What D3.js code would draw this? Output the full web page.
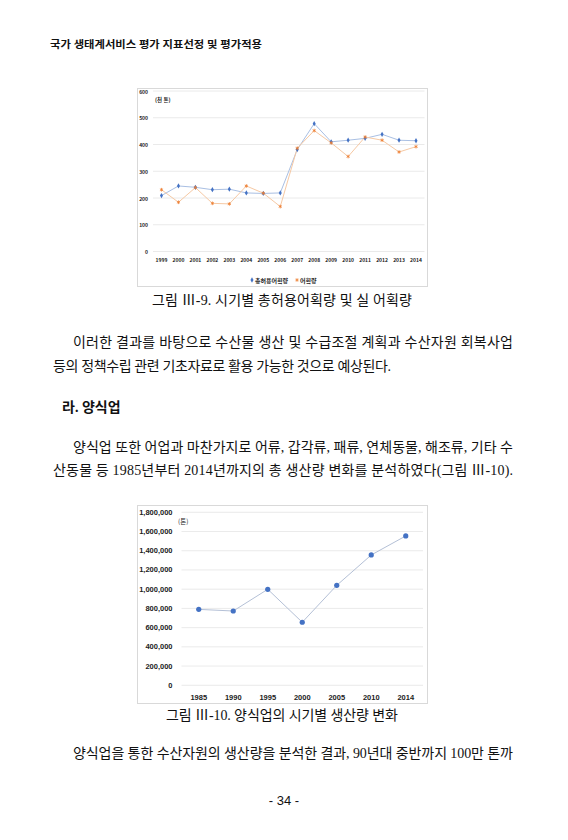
<!DOCTYPE html>
<html>
<head>
<meta charset="utf-8">
<script src="https://cdn.jsdelivr.net/npm/d3@7"></script>
<style>
  html, body { margin: 0; padding: 0; background: #fff; }
  svg { display: block; }
  .body-text { font-family: "Liberation Serif", "Noto Sans CJK KR", serif; font-size: 14px; fill: #111; }
  .chart-text { font-family: "Noto Sans CJK KR", "Liberation Sans", sans-serif; font-weight: 700; fill: #222; }
</style>
</head>
<body>
<div id="page"></div>
<script>
// Chart 1: 총허용어획량 vs 어획량 (천 톤)
const tacYears = ['1999', '2000', '2001', '2002', '2003', '2004', '2005', '2006',
                  '2007', '2008', '2009', '2010', '2011', '2012', '2013', '2014'];
const tacValues = [209, 245, 240, 231, 233, 219, 217, 219, 381, 478, 410, 416, 423, 438, 416, 414];
const catchValues = [231, 184, 239, 180, 178, 245, 218, 168, 386, 452, 406, 355, 428, 416, 372, 392];
const tacTicks = [0, 100, 200, 300, 400, 500, 600];
const tacLegend = ['총허용어획량', '어획량'];

// Chart 2: 양식업 생산량 (톤)
const aquaYears = ['1985', '1990', '1995', '2000', '2005', '2010', '2014'];
const aquaValues = [790000, 773000, 999000, 656000, 1040000, 1356000, 1554000];
const aquaTicks = [0, 200000, 400000, 600000, 800000, 1000000, 1200000, 1400000, 1600000, 1800000];

// Page text
const headerText = '국가 생태계서비스 평가 지표선정 및 평가적용';
const caption1 = '그림 Ⅲ-9. 시기별 총허용어획량 및 실 어획량';
const para1 = ['이러한 결과를 바탕으로 수산물 생산 및 수급조절 계획과 수산자원 회복사업',
               '등의 정책수립 관련 기초자료로 활용 가능한 것으로 예상된다.'];
const sectionTitle = '라. 양식업';
const para2 = ['양식업 또한 어업과 마찬가지로 어류, 갑각류, 패류, 연체동물, 해조류, 기타 수',
               '산동물 등 1985년부터 2014년까지의 총 생산량 변화를 분석하였다(그림 Ⅲ-10).'];
const caption2 = '그림 Ⅲ-10. 양식업의 시기별 생산량 변화';
const para3 = ['양식업을 통한 수산자원의 생산량을 분석한 결과, 90년대 중반까지 100만 톤까'];
const pageNum = '- 34 -';

const W = 568, H = 840;
const svg = d3.select('#page').append('svg').attr('width', W).attr('height', H);

// ---------- page text ----------
function bodyLine(txt, x, y, len) {
    const t = svg.append('text').attr('class', 'body-text')
        .attr('x', x).attr('y', y).attr('dominant-baseline', 'central').text(txt);
    if (len) t.attr('textLength', len).attr('lengthAdjust', 'spacing');
    return t;
}

svg.append('text').attr('class', 'body-text')
    .attr('x', 50).attr('y', 44).attr('dominant-baseline', 'central')
    .style('font-size', '10px').style('font-weight', 700)
    .attr('textLength', 212).attr('lengthAdjust', 'spacingAndGlyphs')
    .text(headerText);

bodyLine(caption1, 282, 300, 260).attr('text-anchor', 'middle');
bodyLine(para1[0], 73, 342, 440);
bodyLine(para1[1], 53, 366, 338);
bodyLine(sectionTitle, 62, 407).style('font-weight', 700).style('font-size', '14px');
bodyLine(para2[0], 73, 447, 440);
bodyLine(para2[1], 53, 470, 460);
bodyLine(caption2, 282, 715, 232).attr('text-anchor', 'middle');
bodyLine(para3[0], 73, 753, 440);
bodyLine(pageNum, 284, 800).attr('text-anchor', 'middle')
    .style('font-family', '"Liberation Sans", sans-serif').style('font-size', '13px');

// ---------- chart 1 ----------
const c1 = svg.append('g');
c1.append('rect').attr('x', 137.5).attr('y', 88.5).attr('width', 290).attr('height', 198)
    .attr('fill', '#fff').attr('stroke', '#d9d9d9').attr('stroke-width', 1);

const x1 = d3.scaleBand().domain(tacYears).range([153, 424.5]);
const y1 = d3.scaleLinear().domain([0, 600]).range([251.5, 91]);

c1.selectAll('.grid1').data(tacTicks).enter().append('line')
    .attr('x1', 153).attr('x2', 424.5)
    .attr('y1', d => y1(d)).attr('y2', d => y1(d))
    .attr('stroke', '#e4e4e4').attr('stroke-width', 0.8);

c1.selectAll('.ytick1').data(tacTicks).enter().append('text')
    .attr('class', 'chart-text')
    .attr('x', 148).attr('y', d => y1(d)).attr('text-anchor', 'end')
    .attr('dominant-baseline', 'central').style('font-size', '5px')
    .text(d => d);

c1.selectAll('.xtick1').data(tacYears).enter().append('text')
    .attr('class', 'chart-text')
    .attr('x', d => x1(d) + x1.bandwidth() / 2).attr('y', 259)
    .attr('text-anchor', 'middle').attr('dominant-baseline', 'central')
    .style('font-size', '5px').text(d => d);

c1.append('text').attr('class', 'chart-text')
    .attr('x', 155).attr('y', 100).attr('dominant-baseline', 'central')
    .style('font-size', '5.5px').text('(천 톤)');

const cx1 = (d, i) => x1(tacYears[i]) + x1.bandwidth() / 2;
const line1 = d3.line().x(cx1).y(d => y1(d));

c1.append('path').datum(tacValues).attr('d', line1)
    .attr('fill', 'none').attr('stroke', '#a9bfe3').attr('stroke-width', 1);
c1.append('path').datum(catchValues).attr('d', line1)
    .attr('fill', 'none').attr('stroke', '#f6c9a4').attr('stroke-width', 1);

const diamond = d3.symbol().type(d3.symbolDiamond).size(8);
const star = d3.symbol().type(d3.symbolAsterisk).size(9);

c1.selectAll('.m1').data(tacValues).enter().append('path')
    .attr('d', diamond)
    .attr('transform', (d, i) => `translate(${cx1(d, i)},${y1(d)})`)
    .attr('fill', '#4472c4');
c1.selectAll('.m2').data(catchValues).enter().append('path')
    .attr('d', star)
    .attr('transform', (d, i) => `translate(${cx1(d, i)},${y1(d)})`)
    .attr('fill', 'none').attr('stroke', '#ed7d31').attr('stroke-width', 0.8);

// legend
const leg = c1.append('g');
leg.append('path').attr('d', diamond).attr('transform', 'translate(252,280)').attr('fill', '#4472c4');
leg.append('text').attr('class', 'chart-text').attr('x', 255).attr('y', 280)
    .attr('dominant-baseline', 'central').style('font-size', '6px').text(tacLegend[0]);
leg.append('path').attr('d', star).attr('transform', 'translate(297,280)')
    .attr('fill', 'none').attr('stroke', '#ed7d31').attr('stroke-width', 0.8);
leg.append('text').attr('class', 'chart-text').attr('x', 300).attr('y', 280)
    .attr('dominant-baseline', 'central').style('font-size', '6px').text(tacLegend[1]);

// ---------- chart 2 ----------
const c2 = svg.append('g');
c2.append('rect').attr('x', 137.5).attr('y', 505.5).attr('width', 290).attr('height', 198)
    .attr('fill', '#fff').attr('stroke', '#d9d9d9').attr('stroke-width', 1);

const x2 = d3.scaleBand().domain(aquaYears).range([181.5, 423]);
const y2 = d3.scaleLinear().domain([0, 1800000]).range([685.3, 512.3]);

c2.selectAll('.grid2').data(aquaTicks).enter().append('line')
    .attr('x1', 181.5).attr('x2', 423)
    .attr('y1', d => y2(d)).attr('y2', d => y2(d))
    .attr('stroke', '#e4e4e4').attr('stroke-width', 0.8);

c2.selectAll('.ytick2').data(aquaTicks).enter().append('text')
    .attr('class', 'chart-text')
    .attr('x', 172.5).attr('y', d => y2(d)).attr('text-anchor', 'end')
    .attr('dominant-baseline', 'central')
    .style('font-family', '"Liberation Sans", sans-serif').style('font-size', '7.5px')
    .text(d => d3.format(',')(d));

c2.selectAll('.xtick2').data(aquaYears).enter().append('text')
    .attr('class', 'chart-text')
    .attr('x', d => x2(d) + x2.bandwidth() / 2).attr('y', 697)
    .attr('text-anchor', 'middle').attr('dominant-baseline', 'central')
    .style('font-family', '"Liberation Sans", sans-serif').style('font-size', '7.5px')
    .text(d => d);

c2.append('text').attr('class', 'chart-text')
    .attr('x', 178).attr('y', 521).attr('dominant-baseline', 'central')
    .style('font-size', '6.5px').style('font-weight', 400).text('(톤)');

const cx2 = (d, i) => x2(aquaYears[i]) + x2.bandwidth() / 2;
c2.append('path').datum(aquaValues)
    .attr('d', d3.line().x(cx2).y(d => y2(d)))
    .attr('fill', 'none').attr('stroke', '#b4c0d6').attr('stroke-width', 1);
c2.selectAll('.m3').data(aquaValues).enter().append('circle')
    .attr('cx', cx2).attr('cy', d => y2(d)).attr('r', 2.6)
    .attr('fill', '#4472c4');
</script>
</body>
</html>
